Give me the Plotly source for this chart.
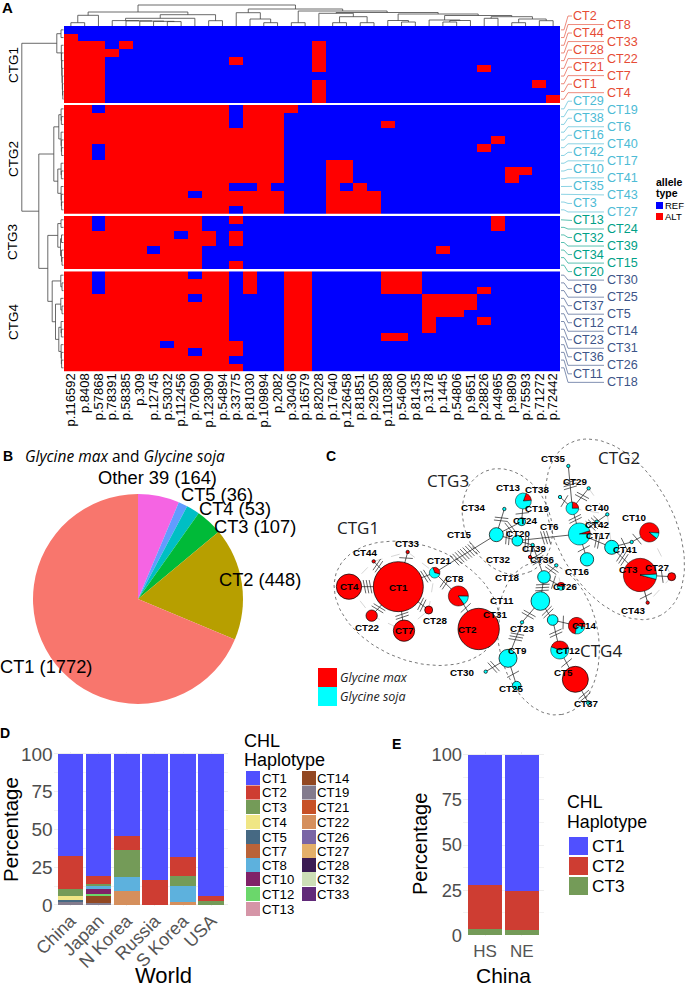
import math
import plotly.graph_objects as go

W, H = 685, 987
# ---------- Panel A data ----------
SNP_COLUMNS = ["p.116592","p.8408","p.57868","p.78391","p.58385","p.309","p.12745","p.53032","p.112456","p.70690",
               "p.123090","p.54894","p.33775","p.81030","p.109894","p.2082","p.30406","p.16579","p.82028","p.17640",
               "p.126458","p.81851","p.29205","p.110388","p.54600","p.81435","p.3178","p.1445","p.54806","p.9651",
               "p.28826","p.44965","p.9809","p.75593","p.71272","p.72442"]
CTG1_ROWS = ["CT2","CT8","CT44","CT33","CT28","CT22","CT21","CT7","CT1","CT4"]
CTG1_ALT = ["", "0", "0-2 4 18", "0-3 18", "0-2 12 18", "0-2 18 30", "0-2", "0-2 18 34", "0-2 18", "0-2 18 35"]
CTG2_ROWS = ["CT29","CT19","CT38","CT6","CT16","CT40","CT42","CT17","CT10","CT41","CT35","CT43","CT3","CT27"]
CTG2_ALT = ["0-16 !2 !12", "0-15 !12", "0-15 !12 23", "0-15", "0-15 31", "0-15 !2 30", "0-15 !2", "0-15 19-20",
            "0-15 19-20 32-33", "0-15 19-20 32", "0-15 !12 !13 !15 19 21", "0-15 !9 19-22", "0-15 19-22", "0-15 !12 19-22"]
CTG3_ROWS = ["CT13","CT24","CT32","CT39","CT34","CT15","CT20"]
CTG3_ALT = ["0-9 !2 12 31", "0-9 !2 31", "0-10 !8 12", "0-10 12", "0-9 !6 27", "0-9", "0-9 12"]
CTG4_ROWS = ["CT30","CT9","CT25","CT37","CT5","CT12","CT14","CT23","CT31","CT36","CT26","CT11","CT18"]
CTG4_ALT = ["0-11 !2 !9 13 16-17 23-25", "0-11 !2 13 16-17 23-25", "0-11 !2 13 16-17 23-25 30", "0-11 !9 16-17 26-29",
            "0-11 16-17 26-29", "0-11 16-17 26-28", "0-11 16-17 26 30", "0-11 16-17 26", "0-11 16-17 23-24",
            "0-12 !7 16-17", "0-12 !9 16-17", "0-11 16-17", "0-12 16-17"]
GROUP_COLORS = ["#E64B35", "#4DBBD5", "#00A087", "#3C5488"]

# merge trees: (height, child, child); ints are leaves
def comb(leaves, h):
    node = leaves[-1]
    for i, l in enumerate(reversed(leaves[:-1])):
        node = (h - 0.25 * (len(leaves) - 2 - i), l, node)
    return node
COL_LEFT = (14, (10.7, (3.3, 0, 1), 2),
            (11.3, (7.7, comb([3,4,5,6,7,8], 5.4), 9), (5.3, 10, 11)))
COL_RIGHT = (17, (13.3, 12, (7, 13, (3.3, 14, 15))),
             (15, (3.3, 16, 17),
              (13.5, (12.7, 18, (9.3, (3.3, 19, 20), (3.3, 21, 22))),
               (12, (5.5, 23, (4, 24, 25)),
                (10.5, (6, 26, (5.5, (4, 27, 28), 29)),
                 (9.3, (7.7, 30, 31), (7, (3.3, 32, 33), (5.3, 34, 35))))))))
COL_TREE = (21, COL_LEFT, COL_RIGHT)
ROW_CTG1 = (6.7, (2.5, 0, 1), comb([2,3,4,5,6,7,8,9], 2.2))
ROW_CTG2 = (9.7, (4.7, comb([10,11,12], 2.4), comb([13,14,15,16], 2.4)),
            (5.7, comb([17,18,19], 2.4), comb([20,21,22,23], 2.4)))
ROW_CTG3 = (5.7, (2.5, 24, 25), (3, (2, 26, 27), (2, 28, (1.5, 29, 30))))
ROW_CTG4 = (11.3, (2.7, 31, (1.5, 32, 33)),
            (8, (2.7, 34, (1.5, 35, 36)), (4.7, comb([37,38,39], 2.4), comb([40,41,42,43], 2.4))))
ROW_TREE = (41.7, ROW_CTG1, (24.7, ROW_CTG2, (15.7, ROW_CTG3, ROW_CTG4)))

# ---------- Panel B data ----------
PIE_LABELS = ["Other 39 (164)", "CT5 (36)", "CT4 (53)", "CT3 (107)", "CT2 (448)", "CT1 (1772)"]
PIE_VALUES = [164, 36, 53, 107, 448, 1772]
PIE_COLORS = ["#F564E3", "#619CFF", "#00BFC4", "#00BA38", "#B79F00", "#F8766D"]

# ---------- Panel C data (network layout units) ----------
NODE_NAMES = ["CT1","CT4","CT7","CT22","CT28","CT44","CT33","CT21","CT8","CT2","CT15","CT34","CT13","CT24","CT20","CT39","CT32",
              "CT35","CT29","CT38","CT19","CT40","CT42","CT6","CT16","CT17","CT41","CT10","CT3","CT27","CT43",
              "CT36","CT18","CT26","CT11","CT23","CT14","CT12","CT5","CT37","CT31","CT9","CT30","CT25"]
NODE_X = [295,147,312,215,386,221,323,404,475,536,589,613,670,665,652,698,690,805,866,780,817,922,890,838,861,935,995,1048,1020,1115,1043,
          769,732,783,721,758,830,779,826,865,666,624,557,650]
NODE_Y = [530,530,662,617,600,454,426,488,558,657,374,297,273,335,392,405,441,168,235,261,295,313,335,372,448,412,396,367,495,500,578,
          466,501,529,573,630,647,720,808,878,637,745,785,827]
NODE_R = [75,38,32,17,12,5,5,16,30,62,21,5,24,12,16,5,5,5,5,5,19,5,5,33,20,21,5,29,50,12,5,5,19,12,28,16,25,27,39,6,5,27,5,13]
# share of Glycine max in each node (%) and start angle of that slice
NODE_MAX = [100,100,100,100,100,100,100,35,85,100,0,0,18,0,0,0,100,0,0,0,25,0,0,5,0,0,0,90,95,100,100,0,0,50,0,0,75,40,100,0,0,0,0,0]
NODE_ROT = {"CT21":-20,"CT8":145,"CT13":20,"CT19":0,"CT6":72,"CT10":130,"CT3":105,"CT26":270,"CT14":190,"CT12":-70}
EDGES = [("CT1","CT4",3),("CT1","CT7",2),("CT1","CT22",2),("CT1","CT28",2),("CT1","CT44",2),("CT1","CT33",1),("CT1","CT21",2),
         ("CT21","CT8",2),("CT8","CT2",1),("CT21","CT15",9),("CT15","CT34",2),("CT15","CT24",2),("CT24","CT13",1),("CT15","CT20",2),
         ("CT20","CT39",2),("CT39","CT32",1),("CT39","CT18",3),("CT20","CT6",3),("CT6","CT19",2),("CT19","CT35",3),("CT19","CT29",2),
         ("CT19","CT38",1),("CT6","CT40",2),("CT6","CT42",2),("CT6","CT16",1),("CT6","CT17",2),("CT17","CT41",1),("CT41","CT10",1),
         ("CT17","CT3",3),("CT3","CT27",1),("CT3","CT43",1),("CT18","CT36",2),("CT18","CT26",1),("CT18","CT11",3),("CT11","CT23",2),
         ("CT23","CT14",1),("CT23","CT12",2),("CT12","CT5",1),("CT5","CT37",2),("CT11","CT31",2),("CT31","CT9",3),("CT9","CT30",2),
         ("CT9","CT25",1)]
FAINT_LINKS = [("CT4","CT44"),("CT44","CT33"),("CT33","CT21"),("CT4","CT22"),("CT22","CT7"),("CT7","CT28"),("CT28","CT21"),
               ("CT19","CT40"),("CT40","CT17"),("CT29","CT40"),("CT3","CT43"),("CT27","CT43"),("CT10","CT27"),("CT26","CT36")]
NODE_LABELS = {"CT35":(805,146),"CT29":(870,213),"CT38":(757,238),"CT19":(755,296),"CT6":(783,349),"CT40":(935,291),"CT42":(935,344),
               "CT13":(670,233),"CT34":(565,292),"CT24":(720,332),"CT15":(522,372),"CT20":(700,371),"CT39":(748,414),"CT32":(640,447),
               "CT36":(770,449),"CT18":(665,501),"CT26":(840,529),"CT11":(648,572),"CT31":(630,614),"CT23":(712,655),"CT14":(898,647),
               "CT12":(850,721),"CT9":(686,745),"CT30":(532,809),"CT25":(677,859),"CT37":(902,903),"CT5":(826,810),"CT10":(1048,322),
               "CT41":(1020,418),"CT17":(940,377),"CT16":(875,484),"CT3":(1020,477),"CT27":(1115,472),"CT43":(1043,601),"CT4":(147,530),
               "CT1":(295,532),"CT7":(312,662),"CT22":(203,652),"CT28":(407,631),"CT44":(195,427),"CT33":(323,400),"CT21":(418,450),
               "CT8":(497,505),"CT2":(537,657)}
CLUSTERS = [("CTG1",175,353,350,580,258,172,22),("CTG2",1027,143,945,358,292,178,62),
            ("CTG3",445,210,622,335,165,128,65),("CTG4",972,762,745,685,232,150,80)]

# ---------- Panel D / E data ----------
LEGEND_D = ["CT1","CT2","CT3","CT4","CT5","CT7","CT8","CT10","CT12","CT13","CT14","CT19","CT21","CT22","CT26","CT27","CT28","CT32","CT33"]
LEGEND_D_COLORS = ["#5050FF","#CE3D32","#749B58","#F0E685","#466983","#BA6338","#5DB1DD","#802268","#6BD76B","#D595A7","#924822",
                   "#837B8D","#C75127","#D58F5C","#7A65A5","#E4AF69","#3B1B53","#CDDEB7","#612A79"]
COUNTRIES = ["China","Japan","N Korea","Russia","S Korea","USA"]
WORLD_SHARE = {"CT1":[67.5,80.6,54.5,83.3,68.3,94.4],"CT2":[22.1,5.5,9.1,16.7,12.7,3.1],"CT3":[4.2,1.5,18.2,0,6.3,2.5],
               "CT4":[2.9,0,0,0,0,0],"CT5":[1.5,0,0,0,0,0],"CT8":[0,1.6,9.1,0,10.6,0],"CT10":[0,3.7,0,0,0,0],
               "CT12":[0,1.4,0,0,0,0],"CT14":[0,4.4,0,0,0,0],"CT19":[1.8,1.3,0,0,0,0],"CT22":[0,0,9.1,0,2.1,0]}
CHINA_REGIONS = ["HS","NE"]
CHINA_SHARE = {"CT1":[72,75.6],"CT2":[24.4,21.6],"CT3":[3.6,2.8]}

# ---------- helpers ----------
def pxx(x): return x / W
def pxy(y): return 1 - y / H
FONT_S = "Liberation Sans, Arial, sans-serif"
FONT_N = "Open Sans, Noto Sans, sans-serif"
annotations, shapes = [], []
def label(x, y, text, size, color="black", anchor="left", font=FONT_S, angle=0):
    annotations.append(dict(x=pxx(x), y=pxy(y), xref="paper", yref="paper", text=text, showarrow=False, xanchor=anchor,
                            yanchor="middle", textangle=angle, borderpad=0, borderwidth=0,
                            font=dict(size=size, color=color, family=font)))
def swatch(x0, y0, x1, y1, color):
    shapes.append(dict(type="rect", xref="paper", yref="paper", x0=pxx(x0), x1=pxx(x1), y0=pxy(y0), y1=pxy(y1),
                       fillcolor=color, line=dict(width=0), layer="above"))
def parse_alt(spec):
    row = [0] * len(SNP_COLUMNS)
    for tok in spec.split():
        if tok.startswith("!"):
            row[int(tok[1:])] = 0
        elif "-" in tok:
            a, b = tok.split("-")
            for i in range(int(a), int(b) + 1):
                row[i] = 1
        else:
            row[int(tok)] = 1
    return row

fig = go.Figure()
# ---------- heatmap ----------
HM_L, HM_R = 64, 560
BANDS = [(26, 103), (105, 213.7), (216, 269), (271.3, 371.7)]
GROUPS = [(CTG1_ROWS, CTG1_ALT), (CTG2_ROWS, CTG2_ALT), (CTG3_ROWS, CTG3_ALT), (CTG4_ROWS, CTG4_ALT)]
layout_axes = {}
row_y = []
for g, ((rows, alts), (top, bot)) in enumerate(zip(GROUPS, BANDS)):
    yname = "y" if g == 0 else f"y{g+1}"
    fig.add_trace(go.Heatmap(z=[parse_alt(a) for a in alts], x=list(range(36)), y=list(range(len(rows))),
                             colorscale=[[0, "#0000FF"], [1, "#FF0000"]], zmin=0, zmax=1, showscale=False,
                             xaxis="x", yaxis=yname, xgap=0, ygap=0))
    layout_axes["yaxis" if g == 0 else f"yaxis{g+1}"] = dict(domain=[pxy(bot), pxy(top)], range=[len(rows)-0.5, -0.5], visible=False,
                                                             anchor="x", automargin=False)
    row_y += [top + (bot - top) * (i + 0.5) / len(rows) for i in range(len(rows))]
layout_axes["xaxis"] = dict(domain=[pxx(HM_L), pxx(HM_R)], range=[-0.5, 35.5], tickmode="array", tickvals=list(range(36)), automargin=False,
                            ticktext=SNP_COLUMNS, tickangle=-90, ticklen=0, anchor="y4", showgrid=False, zeroline=False, showline=False,
                            ticklabelstandoff=-2, tickfont=dict(size=13, family=FONT_S, color="black"))

# overlay axes in page units
OV = dict(xaxis="x5", yaxis="y8")
layout_axes["xaxis5"] = dict(domain=[0, 1], range=[0, W], visible=False, fixedrange=True, anchor="y8", automargin=False)
layout_axes["yaxis8"] = dict(domain=[0, 1], range=[H, 0], visible=False, fixedrange=True, anchor="x5", automargin=False)

def col_x(i): return HM_L + (HM_R - HM_L) * (i + 0.5) / 36
def draw_tree(node, pos, segs):
    """returns (position along leaves, height)"""
    if isinstance(node, int):
        return pos(node), 0
    h, a, b = node
    pa, ha = draw_tree(a, pos, segs)
    pb, hb = draw_tree(b, pos, segs)
    segs.append(((pa, ha), (pa, h), (pb, h), (pb, hb)))
    return (pa + pb) / 2, h
def add_tree(tree, pos, to_xy, color="#444444"):
    segs = []
    draw_tree(tree, pos, segs)
    xs, ys = [], []
    for seg in segs:
        for p in seg:
            x, y = to_xy(*p)
            xs.append(x); ys.append(y)
        xs.append(None); ys.append(None)
    fig.add_trace(go.Scatter(x=xs, y=ys, mode="lines", line=dict(color=color, width=0.8), hoverinfo="skip", showlegend=False, **OV))
add_tree(COL_TREE, col_x, lambda p, h: (p, 26 - h))
add_tree(ROW_TREE, lambda i: row_y[i], lambda p, h: (63.5 - h, p))

# row labels + connectors
LABEL_TOP, LABEL_STEP = 16, 8.52
idx = 0
for g, (rows, _) in enumerate(GROUPS):
    xs, ys = [], []
    for name in rows:
        ly = LABEL_TOP + LABEL_STEP * idx
        far = idx % 2 == 1
        xs += [561, 564, 568, 604 if far else 572, None]
        ys += [row_y[idx], row_y[idx], ly, ly, None]
        label(607 if far else 573, ly, name, 12.6, GROUP_COLORS[g])
        idx += 1
    fig.add_trace(go.Scatter(x=xs, y=ys, mode="lines", line=dict(color=GROUP_COLORS[g], width=0.8), hoverinfo="skip", showlegend=False, opacity=0.8, **OV))
for name, y in zip(["CTG1", "CTG2", "CTG3", "CTG4"], [65, 159, 242, 322]):
    label(13, y, name, 13.5, angle=-90, anchor="center")
label(656, 182, "<b>allele</b>", 10.5)
label(656, 193, "<b>type</b>", 10.5)
swatch(656, 202, 663, 209, "#0000FF"); label(665, 205.5, "REF", 9.5)
swatch(656, 213, 663, 220, "#FF0000"); label(665, 216.5, "ALT", 9.5)

# ---------- pie ----------
fig.add_trace(go.Pie(values=PIE_VALUES, labels=PIE_LABELS, sort=False, direction="clockwise", rotation=0, textinfo="none",
                     marker=dict(colors=PIE_COLORS, line=dict(width=0)), showlegend=False, hoverinfo="label",
                     domain=dict(x=[pxx(33), pxx(243)], y=[pxy(704), pxy(494)])))
for text, (x, y) in zip(PIE_LABELS, [(98, 478), (181, 494), (199, 508), (214, 526), (219, 579), (0, 666)]):
    label(x, y, text, 18.3)
label(25, 456, "<i>Glycine max</i> and <i>Glycine soja</i>", 15.5, font=FONT_N)

# ---------- network ----------
NET = dict(xaxis="x4", yaxis="y7")
layout_axes["xaxis4"] = dict(domain=[pxx(300), pxx(685)], range=[0, 1155], visible=False, anchor="y7", fixedrange=True, automargin=False)
layout_axes["yaxis7"] = dict(domain=[pxy(720), pxy(410)], range=[930, 0], visible=False, anchor="x4", fixedrange=True, automargin=False)
pos = {n: (x, y) for n, x, y in zip(NODE_NAMES, NODE_X, NODE_Y)}
# cluster outlines
for name, lx, ly, cx, cy, a, b, rot in CLUSTERS:
    t = math.radians(rot)
    xs, ys = [], []
    for k in range(121):
        u = 2 * math.pi * k / 120
        ex, ey = a * math.cos(u), b * math.sin(u)
        xs.append(cx + ex * math.cos(t) - ey * math.sin(t))
        ys.append(cy + ex * math.sin(t) + ey * math.cos(t))
    fig.add_trace(go.Scatter(x=xs, y=ys, mode="lines", line=dict(color="#555555", width=0.8, dash="dot"), hoverinfo="skip", showlegend=False, **NET))
    annotations.append(dict(x=pxx(300 + lx / 3), y=pxy(410 + ly / 3), xref="paper", yref="paper", text=name, showarrow=False,
                            font=dict(size=17, family=FONT_N, color="#222222")))
xs, ys = [], []
for a, b in FAINT_LINKS:
    xs += [pos[a][0], pos[b][0], None]; ys += [pos[a][1], pos[b][1], None]
fig.add_trace(go.Scatter(x=xs, y=ys, mode="lines", line=dict(color="#cccccc", width=0.8, dash="dash"), hoverinfo="skip", showlegend=False, **NET))
xs, ys, hx, hy = [], [], [], []
for a, b, n in EDGES:
    (x0, y0), (x1, y1) = pos[a], pos[b]
    xs += [x0, x1, None]; ys += [y0, y1, None]
    L = math.hypot(x1 - x0, y1 - y0)
    ux, uy = (x1 - x0) / L, (y1 - y0) / L
    ra, rb = NODE_R[NODE_NAMES.index(a)], NODE_R[NODE_NAMES.index(b)]
    mid = ra + (L - ra - rb) / 2
    for k in range(n):
        d = mid + (k - (n - 1) / 2) * 9
        mx, my = x0 + ux * d, y0 + uy * d
        hx += [mx - uy * 20 + ux * 4, mx + uy * 20 - ux * 4, None]
        hy += [my + ux * 20 + uy * 4, my - ux * 20 - uy * 4, None]
fig.add_trace(go.Scatter(x=xs, y=ys, mode="lines", line=dict(color="#333333", width=0.8), hoverinfo="skip", showlegend=False, **NET))
fig.add_trace(go.Scatter(x=hx, y=hy, mode="lines", line=dict(color="#222222", width=0.7), hoverinfo="skip", showlegend=False, **NET))
pure = [i for i, m in enumerate(NODE_MAX) if m in (0, 100)]
fig.add_trace(go.Scatter(x=[NODE_X[i] for i in pure], y=[NODE_Y[i] for i in pure], mode="markers", showlegend=False, hoverinfo="skip",
                         marker=dict(size=[NODE_R[i] * 2 / 3 for i in pure], color=["#FF0000" if NODE_MAX[i] == 100 else "#00FFFF" for i in pure],
                                     line=dict(color="black", width=0.7), opacity=1), **NET))
for i, m in enumerate(NODE_MAX):
    if m in (0, 100):
        continue
    cx, cy, r = 300 + NODE_X[i] / 3, 410 + NODE_Y[i] / 3, NODE_R[i] / 3
    fig.add_trace(go.Pie(values=[m, 100 - m], labels=["Glycine max", "Glycine soja"], sort=False, direction="clockwise",
                         rotation=NODE_ROT[NODE_NAMES[i]], textinfo="none", showlegend=False, hoverinfo="skip",
                         marker=dict(colors=["#FF0000", "#00FFFF"], line=dict(color="black", width=0.5)),
                         domain=dict(x=[pxx(cx - r), pxx(cx + r)], y=[pxy(cy + r), pxy(cy - r)])))
for n, (lx, ly) in NODE_LABELS.items():
    annotations.append(dict(x=pxx(300 + lx / 3), y=pxy(410 + ly / 3), xref="paper", yref="paper", text=f"<b>{n}</b>", showarrow=False,
                            font=dict(size=9.8, family=FONT_S, color="black")))
swatch(318, 668, 337, 687, "#FF0000")
swatch(318, 687, 337, 706, "#00FFFF")
label(340, 677, "<i>Glycine max</i>", 12.5, font=FONT_N, color="#222222")
label(340, 696, "<i>Glycine soja</i>", 12.5, font=FONT_N, color="#222222")

# ---------- stacked bars ----------
def grid_axis(domain_x, domain_y, xname, yname, xr, yr, xfont, yfont, angle, standoff):
    layout_axes["xaxis" + xname] = dict(domain=domain_x, range=xr, anchor="y" + yname, tickangle=angle, ticklen=0, showline=False, zeroline=False,
                                        automargin=False, showgrid=True, gridcolor="#ededed", gridwidth=0.8, ticklabelstandoff=standoff,
                                        tickfont=dict(size=xfont, color="#555555", family=FONT_S))
    layout_axes["yaxis" + yname] = dict(domain=domain_y, range=yr, anchor="x" + xname, tickmode="array", tickvals=[0, 25, 50, 75, 100], ticklen=0,
                                        automargin=False, showline=False, zeroline=False, showgrid=True, gridcolor="#ededed", gridwidth=0.8,
                                        minor=dict(tickmode="array", tickvals=[12.5, 37.5, 62.5, 87.5], showgrid=True, gridcolor="#f2f2f2", gridwidth=0.6),
                                        tickfont=dict(size=yfont, color="#4d4d4d", family=FONT_S))
grid_axis([pxx(53.6), pxx(228.2)], [pxy(906), pxy(752)], "2", "5", [-0.6, 5.6], [-0.7, 101.3], 18, 19, -45, 0)
grid_axis([pxx(463), pxx(544)], [pxy(936), pxy(752)], "3", "6", [-0.6, 1.6], [-0.4, 101.6], 17, 18.3, 0, 3)
color_of = dict(zip(LEGEND_D, LEGEND_D_COLORS))
for name in reversed(LEGEND_D):
    if name in WORLD_SHARE:
        fig.add_trace(go.Bar(x=COUNTRIES, y=WORLD_SHARE[name], marker=dict(color=color_of[name], line=dict(width=0)), showlegend=False,
                             name=name, xaxis="x2", yaxis="y5"))
for name in ["CT3", "CT2", "CT1"]:
    fig.add_trace(go.Bar(x=CHINA_REGIONS, y=CHINA_SHARE[name], marker=dict(color=color_of[name], line=dict(width=0)), showlegend=False,
                         name=name, xaxis="x3", yaxis="y6"))
label(10, 830, "Percentage", 20.5, angle=-90, anchor="center")
label(163, 975, "World", 22, anchor="center")
label(244, 741, "CHL", 18); label(244, 760, "Haplotype", 18)
rows_y = [778, 792.5, 807, 822, 837, 851, 865, 879, 894, 909]
for i, (name, col) in enumerate(zip(LEGEND_D, LEGEND_D_COLORS)):
    if i < 10:
        y, sx, tx = rows_y[i], 246, 261.5
    else:
        y, sx, tx = rows_y[i - 10], 302, 316.5
    swatch(sx, y - 7, sx + 14, y + 7, col)
    label(tx, y, name, 13.2)
label(420, 844, "Percentage", 20, angle=-90, anchor="center")
label(503, 975, "China", 21, anchor="center")
label(567, 802, "CHL", 17.8); label(567, 822, "Haplotype", 17.8)
for (name, y) in zip(["CT1", "CT2", "CT3"], [846, 866, 886]):
    swatch(569, y - 9, 588, y + 9, color_of[name])
    label(591.5, y, name, 17.3)

for (t, x, y, s) in [("A", 2, 7, 15), ("B", 3, 456, 14), ("C", 326, 456, 14), ("D", 0, 733, 14), ("E", 392, 744, 14)]:
    label(x, y, f"<b>{t}</b>", s)

fig.update_layout(width=W, height=H, autosize=False, margin=dict(l=0, r=0, t=0, b=0, autoexpand=False), paper_bgcolor="white",
                  plot_bgcolor="rgba(0,0,0,0)", barmode="stack", bargap=0.09, showlegend=False, annotations=annotations, shapes=shapes, **layout_axes)
fig.write_html("out.html", post_script="document.body.style.margin='0';document.body.style.overflow='hidden';",
               config=dict(displayModeBar=False))
